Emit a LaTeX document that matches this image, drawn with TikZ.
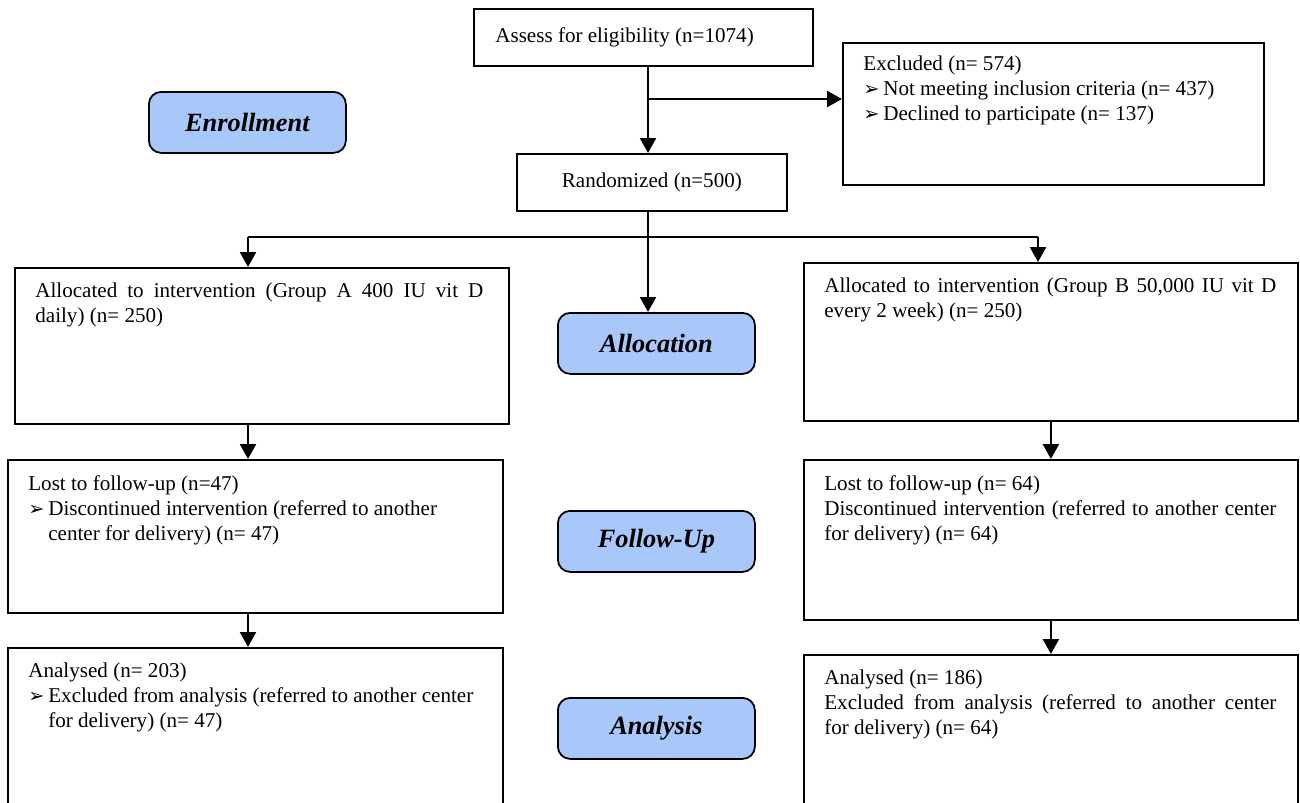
\documentclass[tikz,border=0pt]{standalone}
\usepackage{fontspec}
\setmainfont{Liberation Serif}
\newfontfamily\dingfont{DejaVu Sans}
\usepackage{xcolor}
\usetikzlibrary{arrows.meta, positioning}

\definecolor{stageblue}{RGB}{168,200,250}
\newdimen\px \px=0.02cm
\hyphenpenalty=10000
\newcommand{\bodyfont}{\fontsize{12}{14.2}\selectfont}
\newcommand{\bulletitem}[2][440\px]{\par\noindent\makebox[20\px][l]{\dingfont\fontsize{11}{11}\selectfont ➢}%
    \parbox[t]{#1}{\raggedright #2}}

\begin{document}
\begin{tikzpicture}[
    x=0.02cm, y=-0.02cm,
    box/.style={rectangle, draw, line width=1pt, anchor=north west, inner sep=0pt, font=\bodyfont},
    stage/.style={rectangle, draw, line width=1pt, rounded corners=7pt, fill=stageblue, anchor=north west,
        minimum width=197\px, minimum height=61\px, font=\fontsize{15}{18}\selectfont\bfseries\itshape},
    txt/.style={inner sep=0pt, text width=452\px, align=flush left, font=\bodyfont},
    jtxt/.style={txt, align=justify},
    line/.style={line width=1.5pt},
    arr/.style={line width=1.5pt, -{Triangle[width=9pt,length=8.5pt]}}
]
\useasboundingbox (0,0) rectangle (1300,802);

% stages
\node[stage] (enroll) at (148,91) {Enrollment};
\node[stage] (alloc) at (557,312) {Allocation};
\node[stage] (follow) at (557,510) {Follow-Up};
\node[stage] (analysis) at (557,697) {Analysis};

% enrollment
\node[box, minimum width=339\px, minimum height=57\px] (assess) at (473,8) {};
\node[txt, right=22\px of assess.west] (assess-t) {Assess for eligibility (n=1074)};
\node[box, minimum width=421\px, minimum height=142\px] (excl) at (842,42) {};
\node[txt, below right=14\px and 21\px of excl.north west] (excl-t) {Excluded (n= 574)
    \bulletitem{Not meeting inclusion criteria (n= 437)}
    \bulletitem{Declined to participate (n= 137)}};
\node[box, minimum width=270\px, minimum height=57\px] (rand) at (516,153) {Randomized (n=500)};

% group A
\node[box, minimum width=494\px, minimum height=156\px] (grpA) at (14,267) {};
\node[jtxt, text width=448\px, below right=16\px and 21\px of grpA.north west] (grpA-t)
    {Allocated to intervention (Group A 400 IU vit D\linebreak daily) (n= 250)};
\node[box, minimum width=495\px, minimum height=153\px] (lostA) at (7,459) {};
\node[txt, text width=465\px, below right=16\px and 21\px of lostA.north west] (lostA-t) {Lost to follow-up (n=47)
    \bulletitem{Discontinued intervention (referred to another\\center for delivery) (n= 47)}};
\node[box, minimum width=495\px, minimum height=200\px] (anaA) at (7,647) {};
\node[txt, text width=465\px, below right=16\px and 21\px of anaA.north west] (anaA-t) {Analysed (n= 203)
    \bulletitem{Excluded from analysis (referred to another center\\for delivery) (n= 47)}};

% group B
\node[box, minimum width=494\px, minimum height=158\px] (grpB) at (803,262) {};
\node[jtxt, below right=16\px and 21\px of grpB.north west] (grpB-t)
    {Allocated to intervention (Group B 50,000 IU vit D\linebreak every 2 week) (n= 250)};
\node[box, minimum width=494\px, minimum height=160\px] (lostB) at (803,459) {};
\node[jtxt, below right=16\px and 21\px of lostB.north west] (lostB-t) {Lost to follow-up (n= 64)\par
    Discontinued intervention (referred to another center\linebreak for delivery) (n= 64)};
\node[box, minimum width=494\px, minimum height=200\px] (anaB) at (803,654) {};
\node[jtxt, below right=16\px and 21\px of anaB.north west] (anaB-t) {Analysed (n= 186)\par
    Excluded from analysis (referred to another center\linebreak for delivery) (n= 64)};

% connectors
\coordinate (split) at (648,99);
\coordinate (barL) at (248,237);
\coordinate (barR) at (1038,237);
\draw[arr] (assess.south -| split) -- (split |- rand.north);
\draw[arr] (split) -- (split -| excl.west);
\draw[arr] (rand.south -| split) -- (split |- alloc.north);
\draw[line] (barL) -- (barR);
\draw[arr] (barL) -- (barL |- grpA.north);
\draw[arr] (barR) -- (barR |- grpB.north);
\draw[arr] (grpA.south -| barL) -- (lostA.north -| barL);
\draw[arr] (lostA.south -| barL) -- (anaA.north -| barL);
\draw[arr] (grpB.south -| lostB) -- (lostB);
\draw[arr] (lostB) -- (anaB);
\end{tikzpicture}
\end{document}
